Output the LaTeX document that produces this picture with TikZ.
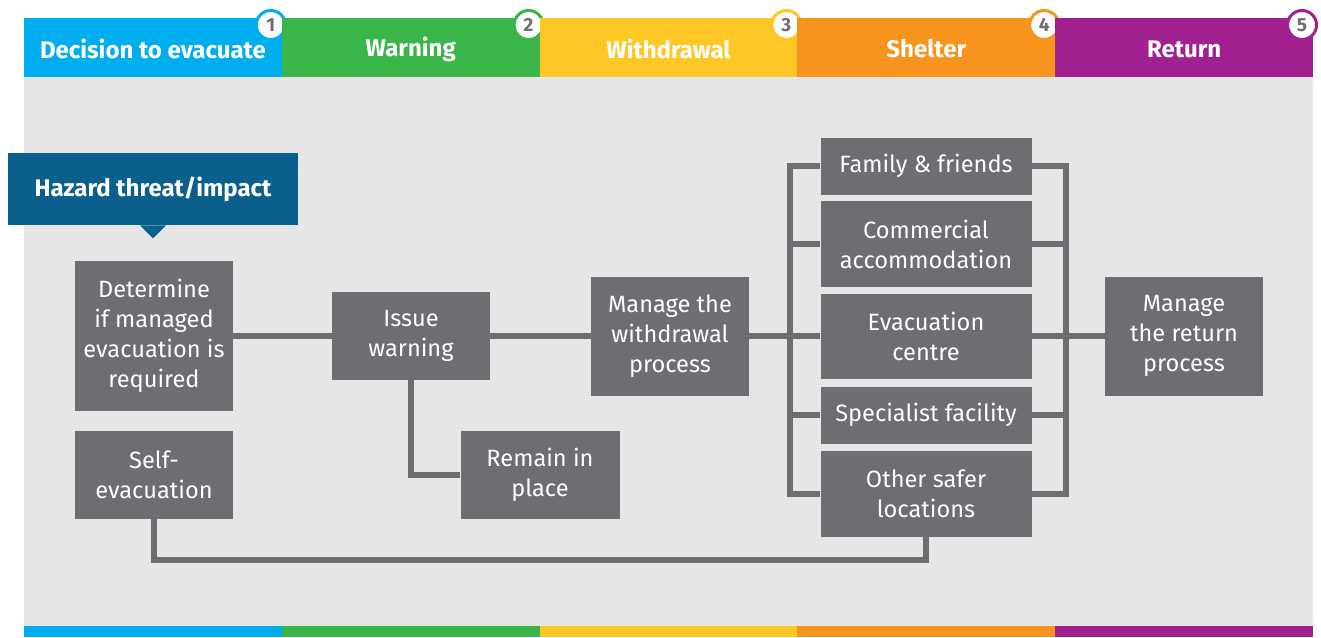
\documentclass[tikz,border=0pt]{standalone}
\usepackage{fontspec}
\setmainfont{Fira Sans}
\usepackage{xcolor}
\usepackage{tikz}

\definecolor{stepblue}{HTML}{00AEEF}
\definecolor{stepgreen}{HTML}{39B54A}
\definecolor{stepyellow}{HTML}{FFC726}
\definecolor{steporange}{HTML}{F7941D}
\definecolor{steppurple}{HTML}{A0218F}
\definecolor{bggray}{HTML}{E6E6E6}
\definecolor{boxgray}{HTML}{6D6E71}
\definecolor{hazardblue}{HTML}{0B5F8C}

\tikzset{
  box/.style={fill=boxgray, text=white, align=center, inner sep=0pt,
    font=\fontsize{11.8}{15}\selectfont},
  link/.style={draw=boxgray, line width=3pt},
  headlabel/.style={text=white, font=\bfseries\fontsize{12}{13}\selectfont},
  num/.style={circle, fill=white, draw=#1, line width=1.5pt, minimum size=14.5pt,
    inner sep=0pt, text=boxgray, font=\bfseries\fontsize{9.5}{10}\selectfont},
}

\begin{document}
\begin{tikzpicture}[x=0.5pt, y=-0.5pt]
            \useasboundingbox (0,0) rectangle (1321,637);
            \fill[bggray] (24,77) rectangle (1313,626);

            % stage bars, top and bottom
            \foreach \col/\lbl [count=\i] in {stepblue/Decision to evacuate, stepgreen/Warning, stepyellow/Withdrawal, steporange/Shelter, steppurple/Return} {
              \fill[\col] ({24+(\i-1)*257.8},18) rectangle ++(257.8,59);
              \fill[\col] ({24+(\i-1)*257.8},626) rectangle ++(257.8,11);
              \node[headlabel] (head\i) at ({24+(\i-0.5)*257.8},49) {\lbl};
              \node[num=\col] (num\i) at ({24+\i*257.8-11},25) {\i};
            }

            % hazard
            \node[fill=hazardblue, minimum width=145pt, minimum height=36pt, headlabel] (hazard) at (153,189) {Hazard threat/impact};
            \fill[hazardblue] ([xshift=-6.5pt]hazard.south) -- ([xshift=6.5pt]hazard.south) -- ++(-6.5pt,-6.5pt) -- cycle;

            % steps
            \node[box, minimum width=79pt, minimum height=75pt] (determine) at (154,336) {Determine\\if managed\\evacuation is\\required};
            \node[box, minimum width=79pt, minimum height=44pt] (self) at (154,475) {Self-\\evacuation};
            \node[box, minimum width=79pt, minimum height=44pt] (issue) at (411,336) {Issue\\warning};
            \node[box, minimum width=79.5pt, minimum height=44pt] (remain) at (540,475) {Remain in\\place};
            \node[box, minimum width=79pt, minimum height=59.5pt] (withdraw) at (670,336) {Manage the\\withdrawal\\process};
            \node[box, minimum width=79pt, minimum height=59.5pt] (return) at (1184,336) {Manage\\the return\\process};

            % shelter options
            \node[box, minimum width=105.5pt, minimum height=28.5pt] (family) at (926,166) {Family \& friends};
            \node[box, minimum width=105.5pt, minimum height=43pt] (commercial) at (926,244) {Commercial\\accommodation};
            \node[box, minimum width=105.5pt, minimum height=42.5pt] (centre) at (926,336) {Evacuation\\centre};
            \node[box, minimum width=105.5pt, minimum height=28.5pt] (specialist) at (926,415) {Specialist facility};
            \node[box, minimum width=105.5pt, minimum height=43pt] (other) at (926,494) {Other safer\\locations};

            \coordinate (lbus) at (790,336);
            \coordinate (rbus) at (1066,336);

            \draw[link] (determine.east) -- (issue.west); % determine-issue
            \draw[link] (issue.east) -- (withdraw.west); % issue-withdraw
            \draw[link] (issue.south) |- (remain.west); % issue-remain
            \draw[link] (withdraw.east) -- (centre.west); % withdraw-centre
            \draw[link] (family.west) -| (lbus) |- (other.west); % left bus
            \draw[link] (lbus |- commercial.west) -- (commercial.west);
            \draw[link] (lbus |- specialist.west) -- (specialist.west);
            \draw[link] (family.east) -| (rbus) |- (other.east); % right bus
            \draw[link] (commercial.east) -- (rbus |- commercial.east);
            \draw[link] (specialist.east) -- (rbus |- specialist.east);
            \draw[link] (centre.east) -- (return.west); % centre-return
            \draw[link] (self.south) -- ++(0,41) -| (other.south); % self-other
        \end{tikzpicture}
\end{document}
